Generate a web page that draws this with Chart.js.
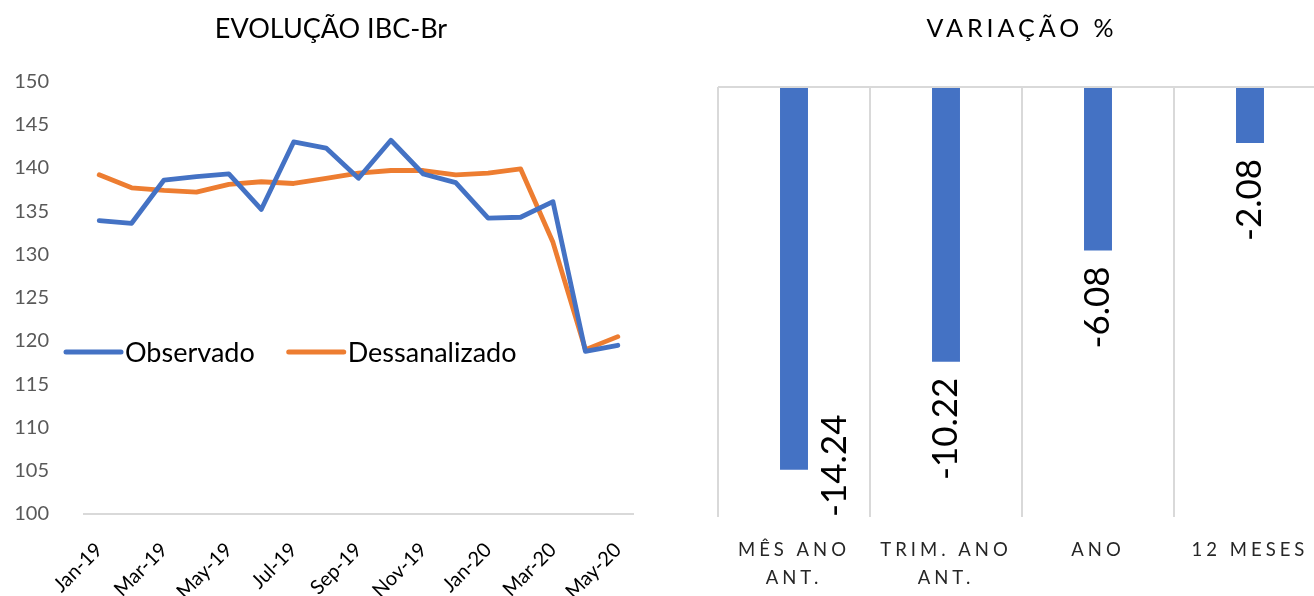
<!DOCTYPE html>
<html>
<head>
<meta charset="utf-8">
<script src="https://cdn.jsdelivr.net/npm/chart.js@4"></script>
<style>
  html, body { margin: 0; padding: 0; background: #fff; overflow: hidden; }
  body { width: 1314px; height: 596px; position: relative; }
  .box { position: absolute; top: 0; height: 596px; }
  #leftBox { left: 0; width: 660px; }
  #rightBox { left: 700px; width: 660px; }
</style>
</head>
<body>
<div class="box" id="leftBox"><canvas id="ibcChart"></canvas></div>
<div class="box" id="rightBox"><canvas id="varChart"></canvas></div>
<script>
// dados do IBC-Br
const meses = ['Jan-19', 'Feb-19', 'Mar-19', 'Apr-19', 'May-19', 'Jun-19', 'Jul-19', 'Aug-19',
  'Sep-19', 'Oct-19', 'Nov-19', 'Dec-19', 'Jan-20', 'Feb-20', 'Mar-20', 'Apr-20', 'May-20']
const observado = [133.9, 133.6, 138.6, 139.0, 139.3, 135.2, 143.0, 142.3, 138.8, 143.2,
  139.3, 138.3, 134.2, 134.3, 136.1, 118.8, 119.5]
const dessazonalizado = [139.2, 137.7, 137.4, 137.2, 138.1, 138.4, 138.2, 138.8, 139.4, 139.7,
  139.7, 139.2, 139.4, 139.9, 131.4, 119.0, 120.5]

// variacao %
const periodos = [['MÊS ANO', 'ANT.'], ['TRIM. ANO', 'ANT.'], 'ANO', '12 MESES']
const variacao = [-14.24, -10.22, -6.08, -2.08]

const azul = '#4472C4'
const laranja = '#ED7D31'
const fonte = 'Lato'

// legenda desenhada dentro da area do grafico, como no excel
const legendaDentro = {
  id: 'legendaDentro',
  afterDraw(chart) {
    const ctx = chart.ctx
    let x = 66
    const y = 352
    ctx.save()
    ctx.font = `27px ${fonte}`
    ctx.textBaseline = 'middle'
    ctx.lineCap = 'round'
    chart.data.datasets.forEach((ds) => {
      ctx.strokeStyle = ds.borderColor
      ctx.lineWidth = 5
      ctx.beginPath()
      ctx.moveTo(x, y)
      ctx.lineTo(x + 55, y)
      ctx.stroke()
      ctx.fillStyle = '#000'
      ctx.fillText(ds.label, x + 59, y + 1)
      x += 59 + ctx.measureText(ds.label).width + 34
    })
    ctx.restore()
  }
}

new Chart('ibcChart', {
  type: 'line',
  data: {
    labels: meses,
    datasets: [
      { label: 'Observado', data: observado, borderColor: azul, backgroundColor: azul },
      { label: 'Dessanalizado', data: dessazonalizado, borderColor: laranja, backgroundColor: laranja }
    ]
  },
  options: {
    responsive: true,
    maintainAspectRatio: false,
    animation: false,
    layout: { padding: { left: 14, right: 12, top: 0, bottom: 0 } },
    elements: {
      line: { borderWidth: 4.8, tension: 0, borderJoinStyle: 'round', borderCapStyle: 'round' },
      point: { radius: 0 }
    },
    plugins: {
      legend: { display: false },
      tooltip: { enabled: false },
      title: {
        display: true,
        text: 'EVOLUÇÃO IBC-Br',
        color: '#000',
        font: { family: fonte, size: 27, weight: 'normal' },
        padding: { top: 13, bottom: 36 }
      }
    },
    scales: {
      x: {
        offset: true,
        grid: { display: false },
        border: { display: false },
        afterFit(scale) {
          scale.height = 82
          scale.paddingLeft = 0
          scale.paddingRight = 26
        },
        ticks: {
          autoSkip: false,
          maxRotation: 45,
          minRotation: 45,
          padding: 16,
          color: '#000',
          font: { family: fonte, size: 20 },
          callback: function (val, i) { return i % 2 === 0 ? this.getLabelForValue(val) : '' }
        }
      },
      y: {
        min: 100,
        max: 150,
        border: { display: false },
        afterFit(scale) { scale.width = 69 },
        grid: {
          drawTicks: false,
          lineWidth: 2,
          color: (c) => c.tick && c.tick.value === 100 ? '#d9d9d9' : 'transparent'
        },
        ticks: { stepSize: 5, padding: 34, color: '#595959', font: { family: fonte, size: 20 } }
      }
    }
  },
  plugins: [legendaDentro]
})

// espacamento entre letras nos textos do grafico da direita
const espacamento = {
  id: 'espacamento',
  beforeUpdate(chart) { chart.ctx.letterSpacing = '4px' },
  beforeDraw(chart) { chart.ctx.letterSpacing = '4px' }
}

// rotulos de dados girados, abaixo do fim da barra
const rotulos = {
  id: 'rotulos',
  afterDatasetsDraw(chart) {
    const ctx = chart.ctx
    const area = chart.chartArea
    const meta = chart.getDatasetMeta(0)
    ctx.save()
    ctx.letterSpacing = '0px'
    ctx.font = `35px ${fonte}`
    ctx.fillStyle = '#000'
    ctx.textBaseline = 'middle'
    meta.data.forEach((bar, i) => {
      const txt = variacao[i].toFixed(2)
      const w = ctx.measureText(txt).width
      ctx.save()
      if (bar.y + 16 + w <= area.bottom) {
        ctx.translate(bar.x, bar.y + 16)
        ctx.rotate(-Math.PI / 2)
        ctx.textAlign = 'right'
      } else {
        ctx.translate(bar.x + bar.width / 2 + 27, area.bottom)
        ctx.rotate(-Math.PI / 2)
        ctx.textAlign = 'left'
      }
      ctx.fillText(txt, 0, 0)
      ctx.restore()
    })
    ctx.restore()
  }
}

new Chart('varChart', {
  type: 'bar',
  data: {
    labels: periodos,
    datasets: [{ data: variacao, backgroundColor: azul, categoryPercentage: 1, barPercentage: 0.184 }]
  },
  options: {
    responsive: true,
    maintainAspectRatio: false,
    animation: false,
    layout: { padding: { left: 18, right: 34, top: 0, bottom: 0 } },
    plugins: {
      legend: { display: false },
      tooltip: { enabled: false },
      title: {
        display: true,
        text: 'VARIAÇÃO %',
        color: '#000',
        font: { family: fonte, size: 25, weight: 'normal' },
        padding: { top: 14, bottom: 43 }
      }
    },
    scales: {
      x: {
        border: { display: false },
        grid: { color: '#d9d9d9', lineWidth: 2, drawTicks: false },
        afterFit(scale) { scale.height = 79 },
        ticks: {
          padding: 19,
          color: '#262626',
          font: { family: fonte, size: 18.5, lineHeight: 1.5 }
        }
      },
      y: {
        min: -16,
        max: 0,
        border: { display: false },
        grid: {
          drawTicks: false,
          lineWidth: 2,
          color: (c) => c.tick && c.tick.value === 0 ? '#d9d9d9' : 'transparent'
        },
        ticks: { display: false, stepSize: 2 }
      }
    }
  },
  plugins: [espacamento, rotulos]
})
</script>
</body>
</html>
